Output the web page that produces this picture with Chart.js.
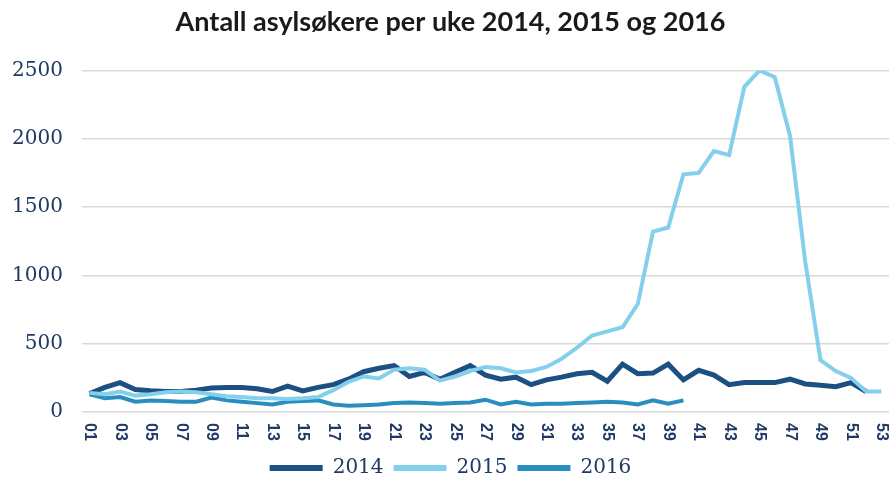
<!DOCTYPE html>
<html>
<head>
<meta charset="utf-8">
<script src="https://cdn.jsdelivr.net/npm/chart.js@4/dist/chart.umd.min.js"></script>
<style>
  html, body { margin: 0; padding: 0; background: #ffffff; }
  #wrap { width: 889px; height: 485px; }
</style>
</head>
<body>
<div id="wrap"><canvas id="c" width="889" height="485"></canvas></div>
<script>
const titleText = 'Antall asylsøkere per uke 2014, 2015 og 2016';
const weeks = ['01','02','03','04','05','06','07','08','09','10','11','12','13','14','15','16','17','18','19','20','21','22','23','24','25','26','27','28','29','30','31','32','33','34','35','36','37','38','39','40','41','42','43','44','45','46','47','48','49','50','51','52','53'];
const seriesNames = ['2014', '2015', '2016'];
const values2014 = [135,180,215,165,155,150,150,160,175,180,180,170,150,190,155,180,200,240,295,320,340,260,290,240,290,340,270,240,255,200,235,255,280,290,225,350,280,285,350,235,305,270,200,215,215,215,240,205,195,185,215,150];
const values2015 = [140,130,150,120,130,145,150,145,130,115,110,100,100,95,100,110,160,220,260,245,310,320,310,230,260,300,330,320,290,300,330,390,470,560,590,620,790,1320,1350,1740,1750,1910,1880,2380,2500,2450,2020,1100,380,300,250,150,150];
const values2016 = [130,100,110,75,85,80,75,75,105,85,75,65,55,75,80,85,55,45,50,55,65,70,65,60,65,70,90,55,75,55,60,60,65,70,75,70,55,85,60,85];
const yTicks = [0, 500, 1000, 1500, 2000, 2500];

const navy = '#1F3864';

const xLabelPlugin = {
  id: 'xLabels',
  afterDraw(chart) {
    const xs = chart.scales.x;
    const ctx = chart.ctx;
    ctx.save();
    ctx.font = 'bold 16px "Liberation Sans", Arial, sans-serif';
    ctx.fillStyle = navy;
    ctx.textAlign = 'left';
    ctx.textBaseline = 'middle';
    weeks.forEach((w, i) => {
      if (i % 2 !== 0) return;
      const x = xs.getPixelForValue(i);
      ctx.save();
      ctx.translate(x, xs.top + 11);
      ctx.rotate(Math.PI / 2);
      ctx.fillText(w, 0, 0);
      ctx.restore();
    });
    ctx.restore();
  }
};

new Chart(document.getElementById('c'), {
  type: 'line',
  data: {
    labels: weeks,
    datasets: [
      { label: seriesNames[0], data: values2014, borderColor: '#1C4F82', backgroundColor: '#1C4F82', borderWidth: 5, pointRadius: 0, tension: 0, order: 1 },
      { label: seriesNames[1], data: values2015, borderColor: '#84D0EC', backgroundColor: '#84D0EC', borderWidth: 4, pointRadius: 0, tension: 0, order: 0 },
      { label: seriesNames[2], data: values2016, borderColor: '#2A8DBF', backgroundColor: '#2A8DBF', borderWidth: 4, pointRadius: 0, tension: 0, order: 2 }
    ]
  },
  options: {
    responsive: false,
    animation: false,
    layout: { padding: { left: 10, right: -2, top: 0, bottom: -3 } },
    plugins: {
      tooltip: { enabled: false },
      title: {
        display: true,
        text: titleText,
        color: '#1a1a1a',
        font: { family: 'Lato, "Liberation Sans", sans-serif', size: 27, weight: 'bold', lineHeight: 1.2 },
        padding: { top: 6, bottom: 32 }
      },
      legend: {
        display: true,
        position: 'bottom',
        sort: (a, b) => a.datasetIndex - b.datasetIndex,
        labels: {
          boxWidth: 53,
          boxHeight: 6,
          padding: 10,
          color: navy,
          font: { family: '"DejaVu Serif", serif', size: 20 },
          generateLabels(chart) {
            return chart.data.datasets.map((ds, i) => ({
              text: ds.label,
              fillStyle: ds.borderColor,
              strokeStyle: ds.borderColor,
              lineWidth: 0,
              fontColor: navy,
              datasetIndex: i,
              hidden: false
            }));
          }
        }
      }
    },
    scales: {
      x: {
        type: 'category',
        offset: true,
        grid: { display: false },
        border: { display: false },
        ticks: { display: false },
        afterFit(s) { s.height = 36; }
      },
      y: {
        min: 0,
        max: 2500,
        afterBuildTicks(s) { s.ticks = yTicks.map(v => ({ value: v })); },
        grid: { color: '#d9d9d9', lineWidth: 1.5, drawTicks: false },
        border: { display: false },
        ticks: {
          padding: 19,
          color: navy,
          font: { family: '"DejaVu Serif", serif', size: 20 },
          callback: (v) => String(v)
        },
        afterFit(s) { s.width = 72; }
      }
    }
  },
  plugins: [xLabelPlugin]
});
</script>
</body>
</html>
